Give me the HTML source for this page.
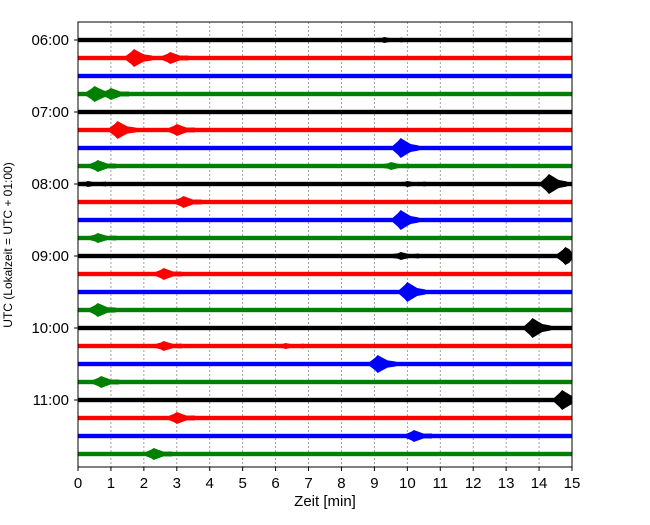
<!DOCTYPE html>
<html><head><meta charset="utf-8"><style>
body{margin:0;background:#fff;}
svg text{font-family:"Liberation Sans","DejaVu Sans",sans-serif;}
</style></head><body>
<svg id="chart" width="650" height="520" xmlns="http://www.w3.org/2000/svg">
<rect width="650" height="520" fill="#fff"/>
<g id="grid"></g><g id="traces"></g><g id="axes"></g>
</svg>
<script>
const rowLabels=["06:00","07:00","08:00","09:00","10:00","11:00"];
const colors=["#000000","#ff0000","#0000ff","#008000"];
const xTicks=[0,1,2,3,4,5,6,7,8,9,10,11,12,13,14,15];
const evRows=[0,1,1,3,3,5,5,6,7,7,8,8,8,9,10,11,12,12,13,14,15,16,17,17,18,19,20,21,22,23];
const evMin=[9.3,1.7,2.8,0.5,1.0,1.2,3.0,9.8,0.6,9.5,0.3,10.0,14.3,3.2,9.8,0.6,9.8,14.8,2.6,10.0,0.6,13.8,2.6,6.3,9.1,0.7,14.7,3.0,10.2,2.3];
const evAmp=[3,9,6,8,6,9,6,10,6,4,3,3,10,6,10,5,4,9,6,10,7,10,5,3,9,6,10,6,6,6];
const NS="http://www.w3.org/2000/svg";
const X0=78,X1=572,Y0=22,Y1=467,ROW0=40,DR=18;
const xs=m=>X0+(X1-X0)*m/15;
const ys=r=>ROW0+r*DR;
function mk(t,a,p){const e=document.createElementNS(NS,t);for(const k in a)e.setAttribute(k,a[k]);p.appendChild(e);return e;}
const grid=document.getElementById('grid'),tr=document.getElementById('traces'),ax=document.getElementById('axes');
xTicks.forEach(v=>{if(v>0&&v<15){const l=mk('line',{x1:xs(v),x2:xs(v),y1:Y0,y2:Y1,stroke:'#888','stroke-width':0.8,'stroke-dasharray':'2,2'},grid);

}});
for(let r=0;r<24;r++){
 const b=mk('rect',{x:X0,y:ys(r)-2.2,width:X1-X0,height:4.4,fill:colors[r%4]},tr);
 
 
}
evRows.forEach((r,i)=>{
 const c=xs(evMin[i]),a=evAmp[i],y=ys(r),px=X1-X0;const s=px/15;
 const pts=[[c-0.25*s,2],[c-0.08*s,a*0.7],[c,a],[c+0.12*s,a*0.75],[c+0.3*s,a*0.4],[c+0.55*s,2.5]];
 let top=pts.map(p=>[Math.min(Math.max(p[0],X0),X1),y-p[1]]);
 let bot=pts.slice().reverse().map(p=>[Math.min(Math.max(p[0],X0),X1),y+p[1]]);
 const pg=mk('polygon',{points:top.concat(bot).map(p=>p.join(',')).join(' '),fill:colors[r%4]},tr);
 
 
});
mk('rect',{x:X0,y:Y0,width:X1-X0,height:Y1-Y0,fill:'none',stroke:'#000','stroke-width':1},ax);
xTicks.forEach(v=>{mk('line',{x1:xs(v),x2:xs(v),y1:Y1,y2:Y1+4,stroke:'#000'},ax);
 const t=mk('text',{x:xs(v),y:Y1+21,'text-anchor':'middle','font-size':15},ax);t.textContent=v;
 
 });
rowLabels.forEach((s,i)=>{const y=ys(i*4);mk('line',{x1:X0-4,x2:X0,y1:y,y2:y,stroke:'#000'},ax);
 const t=mk('text',{x:X0-9,y:y+5,'text-anchor':'end','font-size':15},ax);t.textContent=s;
 
 });
const xt=mk('text',{x:325,y:506,'text-anchor':'middle','font-size':15},ax);xt.textContent='Zeit  [min]';xt.setAttribute('xml:space','preserve');


const yt=mk('text',{x:0,y:0,'text-anchor':'middle','font-size':12,transform:'translate(12,245) rotate(-90)'},ax);yt.textContent='UTC (Lokalzeit = UTC + 01:00)';


</script>
</body></html>
